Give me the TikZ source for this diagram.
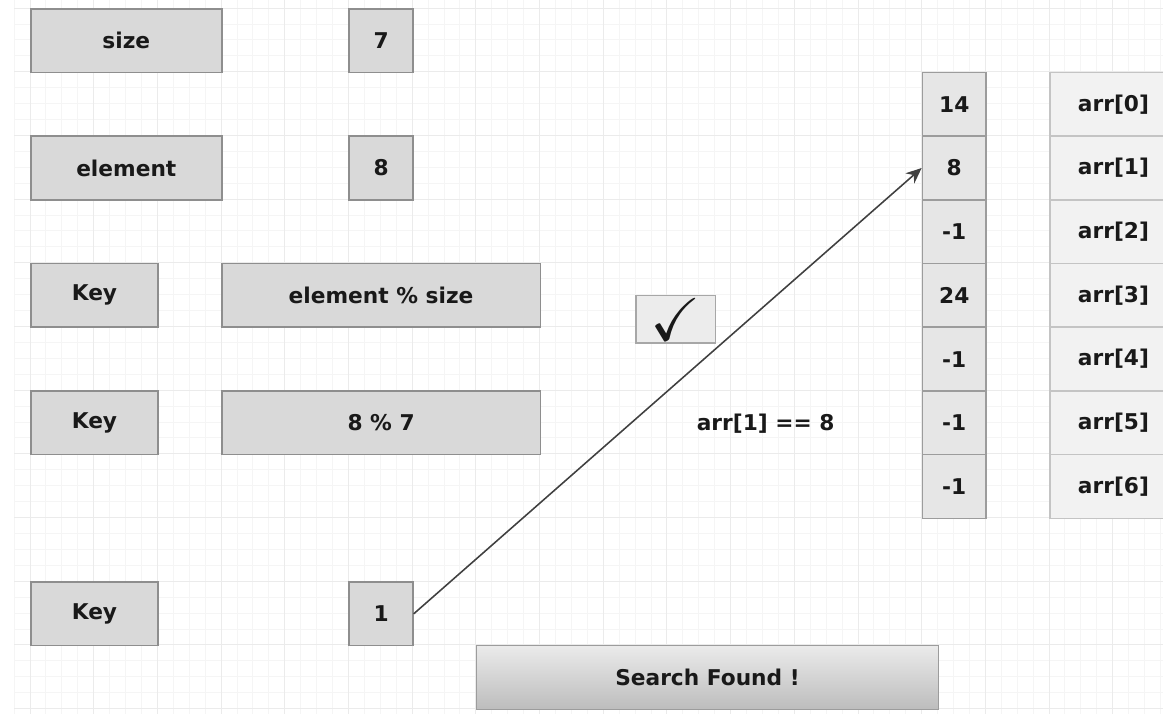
\documentclass[tikz,border=0pt]{standalone}
\usepackage{amssymb}
\usepackage{fontspec}
\setmainfont{DejaVu Sans}
\usetikzlibrary{arrows.meta,positioning}

\definecolor{gridminor}{HTML}{F5F5F5}
\definecolor{gridmajor}{HTML}{EBEBEB}
\definecolor{boxfill}{HTML}{D9D9D9}
\definecolor{boxline}{HTML}{8E8E8E}
\definecolor{valfill}{HTML}{E6E6E6}
\definecolor{valline}{HTML}{9C9C9C}
\definecolor{idxfill}{HTML}{F2F2F2}
\definecolor{idxline}{HTML}{C4C4C4}

\begin{document}
\begin{tikzpicture}[
    txt/.style={font=\fontsize{9.7}{11}\selectfont\bfseries, text=black!90},
    box/.style={txt, draw=boxline, fill=boxfill, line width=0.7pt, rectangle,
                anchor=north west, inner sep=0pt, minimum height=1cm},
    valbox/.style={box, draw=valline, fill=valfill, minimum width=1cm},
    idxbox/.style={box, draw=idxline, fill=idxfill, minimum width=2cm},
  ]
  \useasboundingbox (-0.471,0.126) rectangle (17.79,-11.08);   % page frame

  % background grid
  \draw[gridminor, line width=0.4pt] (-0.25,0.126) grid[step=0.25] (17.79,-11.08);
  \draw[gridmajor, line width=0.4pt] (-0.25,0.126) grid[step=1] (17.79,-11.08);

  % variables on the left
  \node[box, minimum width=3cm] (size)  at (0,0)  {size};
  \node[box, minimum width=1cm] (sizev) at (5,0)  {7};
  \node[box, minimum width=3cm] (elem)  at (0,-2) {element};
  \node[box, minimum width=1cm] (elemv) at (5,-2) {8};

  \node[box, minimum width=2cm] (key1)  at (0,-4) {Key};
  \node[box, minimum width=5cm] (hash)  at (3,-4) {element \% size};
  \node[box, minimum width=2cm] (key2)  at (0,-6) {Key};
  \node[box, minimum width=5cm] (calc)  at (3,-6) {8 \% 7};
  \node[box, minimum width=2cm] (key3)  at (0,-9) {Key};
  \node[box, minimum width=1cm] (one)   at (5,-9) {1};

  % hash table and its indices
  \foreach \v [count=\i from 0] in {14,8,-1,24,-1,-1,-1} {
    \node[valbox] (v\i) at (14,-1-\i) {\v};                % stored value
    \node[idxbox] (a\i) at (16,-1-\i) {arr[\i]};           % index label
  }

  % check and result
  \node[box, draw=idxline!85!black, fill=idxfill!95!gray, minimum width=1.25cm,
        minimum height=0.75cm, font=\fontsize{27}{29}\selectfont] (ok) at (9.5,-4.5)
        {\raisebox{-9.4pt}[0pt][0pt]{$\checkmark$}};
  \node[txt] (test) at (11.55,-6.52) {arr[1] == 8};
  \node[box, draw=valline, top color=black!8, bottom color=black!26,
        minimum width=7.25cm] (found) at (7,-10) {Search Found !};

  \draw[-{Stealth[length=7pt,width=6pt]}, line width=0.7pt, black!75] (one.east) -- (v1.west);  % key points to slot
\end{tikzpicture}
\end{document}
